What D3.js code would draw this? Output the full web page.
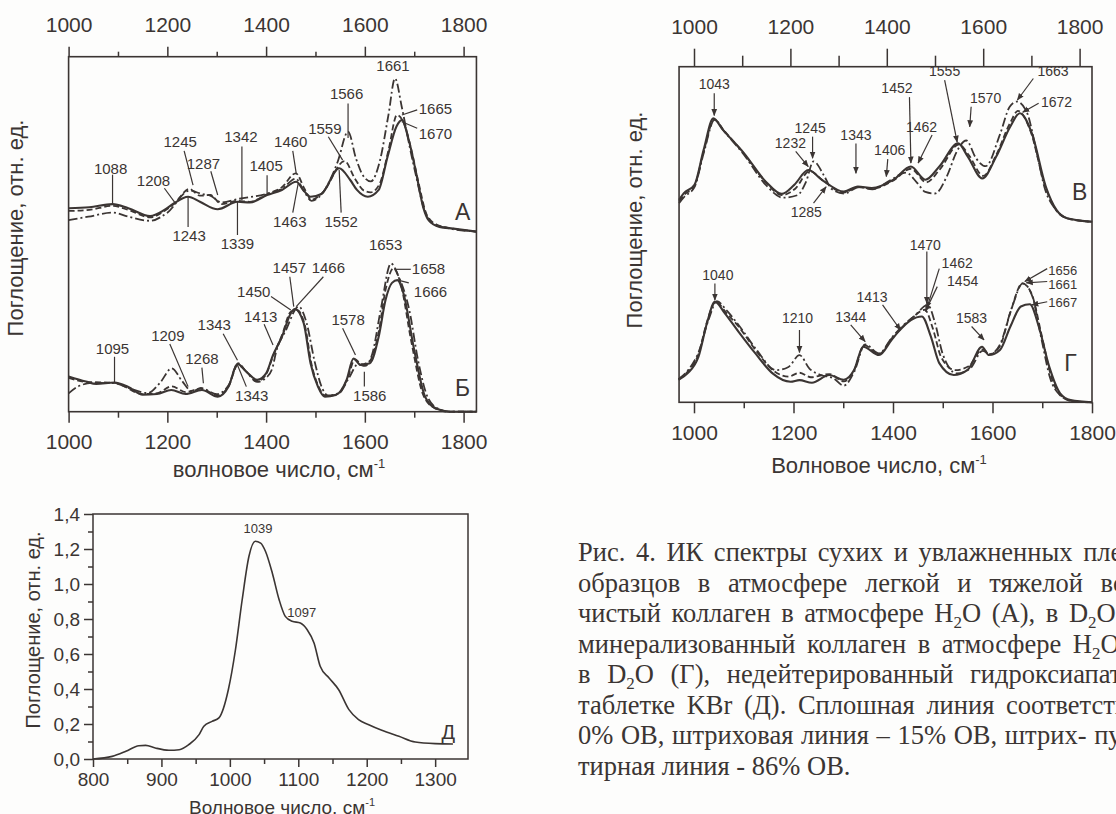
<!DOCTYPE html>
<html><head><meta charset="utf-8">
<script src="https://cdn.jsdelivr.net/npm/d3@7"></script>
<style>
body{margin:0;background:#fff}
svg{display:block;font-family:"Liberation Sans",Arial,sans-serif}
</style></head><body>
<svg id="fig" width="1116" height="814"></svg>
<script>
// ---- data: [wavenumber, relative absorbance] ----
// A : collagen in H2O
const aSolid = [[1000,0.553],[1042,0.556],[1089,0.565],[1121,0.553],[1165,0.530],[1194,0.548],[1213,0.567],[1242,0.587],[1266,0.572],[1302,0.550],[1342,0.572],[1367,0.570],[1402,0.592],[1432,0.607],[1461,0.631],[1476,0.605],[1490,0.587],[1512,0.595],[1548,0.671],[1570,0.637],[1584,0.607],[1606,0.587],[1628,0.607],[1646,0.705],[1664,0.794],[1675,0.813],[1689,0.754],[1704,0.656],[1718,0.557],[1729,0.518],[1751,0.498],[1779,0.493],[1826,0.484]];
const aDash = [[1000,0.545],[1042,0.548],[1089,0.560],[1121,0.548],[1165,0.526],[1194,0.545],[1213,0.565],[1245,0.610],[1266,0.590],[1287,0.592],[1310,0.565],[1342,0.575],[1367,0.572],[1402,0.595],[1432,0.615],[1460,0.656],[1478,0.610],[1492,0.578],[1515,0.600],[1559,0.692],[1580,0.640],[1598,0.605],[1612,0.600],[1630,0.625],[1648,0.725],[1665,0.828],[1680,0.800],[1695,0.720],[1710,0.620],[1725,0.535],[1745,0.505],[1779,0.493],[1826,0.484]];
const aDashDot = [[1000,0.518],[1040,0.528],[1089,0.540],[1121,0.528],[1165,0.516],[1200,0.540],[1245,0.605],[1270,0.595],[1287,0.590],[1310,0.570],[1342,0.580],[1400,0.595],[1432,0.610],[1460,0.640],[1478,0.600],[1492,0.575],[1520,0.610],[1545,0.690],[1566,0.779],[1582,0.700],[1596,0.650],[1612,0.632],[1630,0.690],[1648,0.830],[1661,0.936],[1675,0.850],[1690,0.740],[1705,0.640],[1720,0.550],[1735,0.510],[1760,0.497],[1826,0.484]];
// Б : collagen in D2O
const bSolid = [[1000,0.104],[1035,0.089],[1056,0.082],[1093,0.086],[1121,0.073],[1150,0.050],[1179,0.052],[1208,0.064],[1237,0.052],[1270,0.064],[1302,0.044],[1324,0.074],[1342,0.141],[1360,0.118],[1382,0.094],[1400,0.113],[1414,0.167],[1432,0.221],[1450,0.290],[1458,0.303],[1476,0.262],[1490,0.143],[1505,0.074],[1519,0.044],[1541,0.049],[1563,0.094],[1577,0.157],[1591,0.138],[1610,0.143],[1628,0.221],[1642,0.330],[1655,0.380],[1666,0.388],[1678,0.350],[1700,0.182],[1722,0.044],[1743,0.010],[1772,0.0],[1826,0.0]];
const bDash = [[1000,0.100],[1035,0.088],[1093,0.085],[1150,0.052],[1180,0.055],[1209,0.075],[1237,0.058],[1268,0.068],[1302,0.048],[1324,0.075],[1343,0.138],[1360,0.118],[1382,0.090],[1400,0.110],[1413,0.160],[1432,0.225],[1450,0.295],[1462,0.300],[1478,0.258],[1492,0.140],[1507,0.072],[1522,0.046],[1545,0.052],[1565,0.098],[1580,0.155],[1593,0.140],[1610,0.150],[1628,0.235],[1642,0.360],[1658,0.423],[1672,0.380],[1695,0.200],[1718,0.050],[1740,0.012],[1770,0.0],[1826,0.0]];
const bDashDot = [[1000,0.054],[1020,0.075],[1050,0.085],[1093,0.084],[1121,0.070],[1160,0.055],[1185,0.085],[1209,0.128],[1230,0.090],[1250,0.060],[1268,0.070],[1300,0.052],[1324,0.078],[1343,0.143],[1360,0.118],[1382,0.088],[1400,0.100],[1413,0.130],[1420,0.175],[1440,0.240],[1466,0.310],[1482,0.262],[1498,0.150],[1512,0.075],[1525,0.048],[1548,0.055],[1568,0.100],[1586,0.140],[1600,0.135],[1615,0.170],[1632,0.300],[1653,0.437],[1668,0.400],[1690,0.300],[1708,0.150],[1728,0.040],[1750,0.008],[1775,0.0],[1826,0.0]];
// В : mineralized collagen in H2O
const vSolid = [[969,0.585],[979,0.606],[1001,0.632],[1020,0.741],[1040,0.839],[1060,0.803],[1104,0.730],[1149,0.642],[1182,0.604],[1208,0.632],[1237,0.678],[1266,0.647],[1311,0.611],[1340,0.627],[1369,0.622],[1414,0.648],[1450,0.689],[1480,0.648],[1509,0.689],[1548,0.761],[1568,0.720],[1598,0.652],[1627,0.720],[1656,0.813],[1676,0.855],[1701,0.792],[1730,0.626],[1752,0.554],[1774,0.528],[1826,0.517]];
const vDash = [[969,0.580],[979,0.600],[1001,0.628],[1020,0.735],[1042,0.835],[1060,0.805],[1104,0.728],[1149,0.640],[1182,0.600],[1210,0.620],[1240,0.675],[1268,0.645],[1311,0.608],[1340,0.625],[1369,0.620],[1414,0.646],[1450,0.682],[1482,0.640],[1510,0.680],[1550,0.758],[1570,0.725],[1600,0.660],[1627,0.725],[1656,0.825],[1672,0.862],[1698,0.800],[1728,0.630],[1750,0.556],[1774,0.528],[1826,0.517]];
const vDashDot = [[969,0.575],[980,0.595],[1001,0.625],[1020,0.730],[1043,0.835],[1062,0.800],[1104,0.725],[1149,0.632],[1185,0.592],[1215,0.600],[1232,0.640],[1248,0.705],[1270,0.660],[1285,0.620],[1311,0.605],[1343,0.625],[1370,0.618],[1406,0.645],[1440,0.670],[1462,0.640],[1480,0.610],[1500,0.605],[1525,0.660],[1545,0.735],[1565,0.770],[1585,0.715],[1605,0.690],[1635,0.790],[1655,0.875],[1670,0.891],[1690,0.860],[1710,0.740],[1728,0.620],[1750,0.556],[1774,0.528],[1826,0.517]];
// Г : mineralized collagen in D2O
const gSolid = [[969,0.070],[987,0.090],[1009,0.142],[1026,0.246],[1042,0.313],[1062,0.277],[1087,0.225],[1123,0.153],[1158,0.090],[1194,0.064],[1212,0.069],[1237,0.061],[1272,0.085],[1301,0.070],[1322,0.101],[1340,0.173],[1372,0.147],[1397,0.194],[1411,0.220],[1436,0.256],[1458,0.267],[1476,0.205],[1493,0.122],[1522,0.085],[1550,0.101],[1579,0.173],[1593,0.147],[1615,0.163],[1636,0.236],[1657,0.298],[1675,0.305],[1693,0.236],[1714,0.111],[1736,0.028],[1757,0.007],[1800,0.0]];
const gDash = [[969,0.072],[987,0.095],[1009,0.150],[1026,0.250],[1044,0.313],[1064,0.280],[1090,0.235],[1125,0.160],[1160,0.098],[1190,0.080],[1212,0.092],[1235,0.078],[1272,0.088],[1301,0.065],[1322,0.100],[1342,0.178],[1372,0.150],[1397,0.198],[1413,0.225],[1440,0.265],[1464,0.288],[1480,0.230],[1497,0.140],[1525,0.100],[1552,0.112],[1580,0.165],[1595,0.150],[1615,0.175],[1636,0.280],[1660,0.370],[1678,0.340],[1700,0.200],[1718,0.080],[1738,0.020],[1760,0.004],[1800,0.0]];
const gDashDot = [[969,0.072],[987,0.098],[1009,0.155],[1030,0.260],[1046,0.315],[1066,0.285],[1090,0.240],[1125,0.165],[1165,0.100],[1190,0.110],[1212,0.147],[1232,0.105],[1255,0.085],[1280,0.075],[1301,0.052],[1322,0.095],[1344,0.180],[1372,0.152],[1397,0.200],[1413,0.228],[1444,0.270],[1470,0.303],[1484,0.250],[1500,0.150],[1528,0.090],[1555,0.105],[1580,0.160],[1595,0.150],[1615,0.180],[1640,0.300],[1661,0.370],[1680,0.330],[1698,0.200],[1716,0.075],[1736,0.022],[1760,0.004],[1800,0.0]];
// Д : hydroxyapatite in KBr
const dWn = [800,828,848,867,877,891,911,926,940,955,962,974,984,998,1008,1018,1028,1037,1045,1052,1062,1072,1081,1091,1103,1113,1123,1132,1145,1159,1174,1188,1203,1222,1247,1271,1300,1326];
const dAbs = [0,0.015,0.044,0.076,0.078,0.063,0.05,0.053,0.082,0.139,0.187,0.215,0.235,0.40,0.62,0.91,1.16,1.244,1.234,1.187,1.063,0.91,0.815,0.787,0.777,0.739,0.663,0.53,0.463,0.396,0.282,0.225,0.196,0.164,0.13,0.097,0.088,0.086];

// peak labels: [text, label x, label y, line from x, y, line to x, y, anchor]
const annA = [["1088",1085,0.671,1089,0.652,1089,0.565],["1208",1172,0.636,1194,0.612,1215,0.570],["1245",1226,0.749,1234,0.722,1252,0.621],["1287",1273,0.685,1288,0.662,1302,0.592],["1342",1349,0.764,1351,0.735,1351,0.577],["1405",1400,0.678,1402,0.650,1402,0.597],["1460",1450,0.749,1454,0.722,1461,0.656],["1559",1519,0.789,1526,0.764,1555,0.695],["1566",1563,0.892,1566,0.862,1566,0.760],["1661",1657,0.975],["1665",1743,0.848,1706,0.843,1675,0.828],["1670",1743,0.774,1706,0.789,1675,0.808],["1243",1244,0.474,1242,0.498,1242,0.587],["1339",1342,0.449,1342,0.474,1342,0.572],["1463",1448,0.513,1454,0.540,1465,0.626],["1552",1552,0.513,1552,0.540,1548,0.666]];
const annB = [["1653",1642,0.492],["1658",1729,0.423,1693,0.420,1660,0.420],["1666",1733,0.354,1689,0.380,1667,0.388],["1457",1447,0.425,1448,0.398,1456,0.310],["1466",1526,0.425,1516,0.398,1461,0.310],["1450",1375,0.354,1410,0.340,1450,0.300],["1413",1389,0.280,1396,0.258,1414,0.197],["1343",1295,0.256,1313,0.230,1342,0.152],["1209",1201,0.226,1205,0.200,1242,0.074],["1268",1270,0.157,1270,0.130,1273,0.084],["1095",1089,0.187,1093,0.162,1093,0.084],["1343",1371,0.049,1360,0.074,1342,0.138],["1578",1566,0.271,1555,0.246,1581,0.167],["1586",1610,0.049,1599,0.074,1599,0.118]];
const annV = [["1043",1042,0.945,1042,0.917,1042,0.848],["1245",1241,0.808,1246,0.782,1246,0.715],["1232",1200,0.761,1211,0.736,1237,0.689],["1285",1233,0.549,1248,0.575,1274,0.626],["1343",1336,0.787,1336,0.761,1336,0.668],["1406",1406,0.741,1402,0.712,1399,0.658],["1452",1421,0.932,1447,0.905,1450,0.700],["1462",1472,0.813,1494,0.787,1465,0.700],["1555",1520,0.985,1520,0.958,1546,0.765],["1570",1605,0.901,1575,0.875,1572,0.813],["1663",1745,0.985,1704,0.963,1671,0.896],["1672",1752,0.891,1715,0.886,1682,0.858]];
const annG = [["1040",1048,0.396,1042,0.370,1042,0.318],["1210",1208,0.262,1212,0.225,1212,0.155],["1344",1315,0.267,1315,0.241,1344,0.189],["1413",1358,0.329,1379,0.303,1415,0.225],["1470",1465,0.490,1468,0.469,1468,0.308],["1462",1529,0.433,1493,0.416,1468,0.293],["1454",1540,0.376,1489,0.360,1465,0.283],["1583",1558,0.262,1558,0.236,1583,0.194],["1656",1712,0.411,1710,0.416,1665,0.376,"start"],["1661",1712,0.368,1710,0.376,1668,0.372,"start"],["1667",1712,0.311,1710,0.313,1679,0.303,"start"]];
const annD = [["1039",1041,1.32],["1097",1105,0.84]];

const majorTicks = [1000,1200,1400,1600,1800];
const minorTicks = [1100,1300,1500,1700];
// caption lines with the word spacing of the justified column
const caption = [
  ["Рис. 4. ИК спектры сухих и увлажненных пленок", 4],
  ["образцов в атмосфере легкой и тяжелой воды:", 11],
  ["чистый коллаген в атмосфере H|2|O (А), в D|2|O (Б),", 4],
  ["минерализованный коллаген в атмосфере H|2|O (В) и", 5],
  ["в D|2|O (Г), недейтерированный гидроксиапатит в", 10],
  ["таблетке KBr (Д). Сплошная линия соответствует", 5],
  ["0% ОВ, штриховая линия – 15% ОВ, штрих- пунк-", 1],
  ["тирная линия - 86% ОВ.", 0]
];

const ink = "#3b3533";
const svg = d3.select("#fig");
svg.append("rect").attr("width", 1116).attr("height", 814).attr("fill", "#fdfdfc");

svg.append("defs").append("marker")
  .attr("id", "arr").attr("viewBox", "0 0 10 10").attr("refX", 9).attr("refY", 5)
  .attr("markerWidth", 6).attr("markerHeight", 6).attr("orient", "auto")
  .append("path").attr("d", "M0,1 L10,5 L0,9 z").attr("fill", ink);

const dashes = {solid: null, dash: "6,3", dashdot: "9,3,2,3"};

function styleAxis(a, size) {
  a.select(".domain").remove();
  a.selectAll("line").attr("stroke", ink).attr("stroke-width", 1.5);
  a.selectAll("text").attr("fill", ink).style("font-size", size + "px")
    .style("font-family", '"Liberation Sans", Arial, sans-serif');
}

function spectraPanel(o) {
  const g = svg.append("g");
  const xl = o.xTop(o.frame[0]), xr = o.xBot(o.frame[1]);
  g.append("rect")
    .attr("x", xl).attr("y", o.top)
    .attr("width", xr - xl).attr("height", o.bottom - o.top)
    .attr("fill", "none").attr("stroke", ink).attr("stroke-width", 1.6);

  const ax = (axis, scale, vals, y, size, pad, lab) => {
    const a = g.append("g").attr("transform", `translate(0,${y})`)
      .call(axis(scale).tickValues(vals).tickSize(size).tickPadding(pad)
        .tickFormat(lab ? d3.format("d") : ""));
    styleAxis(a, o.tickFont);
  };
  ax(d3.axisTop, o.xTop, majorTicks, o.top, o.tickT[0], o.tickT[2], true);
  ax(d3.axisTop, o.xTop, minorTicks, o.top, o.tickT[1], 0, false);
  ax(d3.axisBottom, o.xBot, majorTicks, o.bottom, o.tickB[0], o.tickB[2], true);
  ax(d3.axisBottom, o.xBot, minorTicks, o.bottom, o.tickB[1], 0, false);

  o.parts.forEach(p => {
    const x = p.x, y = p.y;
    const line = d3.line().x(d => x(d[0])).y(d => y(d[1])).curve(d3.curveMonotoneX);
    p.series.forEach(s => {
      g.append("path").datum(s.data).attr("d", line)
        .attr("fill", "none").attr("stroke", ink)
        .attr("stroke-width", s.style === "solid" ? 2.1 : 1.8)
        .attr("stroke-dasharray", dashes[s.style])
        .attr("stroke-linejoin", "round");
    });
    p.anns.forEach(a => {
      if (a.length > 3) {
        const l = g.append("line")
          .attr("x1", x(a[3])).attr("y1", y(a[4]))
          .attr("x2", x(a[5])).attr("y2", y(a[6]))
          .attr("stroke", ink).attr("stroke-width", 1.2);
        if (o.arrows) l.attr("marker-end", "url(#arr)");
      }
      g.append("text").attr("x", x(a[1])).attr("y", y(a[2]))
        .attr("text-anchor", a[7] || "middle").attr("dominant-baseline", "central")
        .attr("fill", ink).style("font-size", (a[7] ? o.peakFont - 1 : o.peakFont) + "px").text(a[0]);
    });
    g.append("text").attr("x", x(p.letter[1])).attr("y", y(p.letter[2]))
      .attr("text-anchor", "middle").attr("dominant-baseline", "central")
      .attr("fill", ink).style("font-size", "23px").text(p.letter[0]);
  });

  const xt = g.append("text").attr("x", o.xTitle[0]).attr("y", o.xTitle[1])
    .attr("text-anchor", "middle").attr("fill", ink).style("font-size", o.titleFont + "px");
  xt.append("tspan").text(o.xTitle[2]);
  xt.append("tspan").attr("dy", -9).style("font-size", "13px").text("-1");
  g.append("text")
    .attr("transform", `translate(${o.yTitle[0]},${o.yTitle[1]}) rotate(-90)`)
    .attr("text-anchor", "middle").attr("dominant-baseline", "central")
    .attr("fill", ink).style("font-size", o.titleFont + "px")
    .text("Поглощение, отн. ед.");
}

// left: A and Б (stacked, each with own offset)
const xL = d3.scaleLinear().domain([1000, 1800]).range([68.6, 463.6]);
spectraPanel({
  xTop: xL, xBot: xL, frame: [1000, 1826], top: 56.7, bottom: 411.7,
  tickT: [10, 5, 15], tickB: [11, 6, 11], tickFont: 21, peakFont: 15, titleFont: 22,
  parts: [
    {x: xL, y: d3.scaleLinear().domain([0, 1]).range([395.7, 56.7]),
     series: [{data: aSolid, style: "solid"}, {data: aDash, style: "dash"}, {data: aDashDot, style: "dashdot"}],
     anns: annA, letter: ["А", 1798, 0.543]},
    {x: xL, y: d3.scaleLinear().domain([0, 1]).range([411.7, 72.7]),
     series: [{data: bSolid, style: "solid"}, {data: bDash, style: "dash"}, {data: bDashDot, style: "dashdot"}],
     anns: annB, letter: ["Б", 1798, 0.069]}
  ],
  xTitle: [279, 477, "волновое число, см"],
  yTitle: [15, 228],
  arrows: false
});

// right: В and Г
const xRt = d3.scaleLinear().domain([1000, 1800]).range([694, 1079.6]);
const xRb = d3.scaleLinear().domain([1000, 1800]).range([694, 1092]);
spectraPanel({
  xTop: xRt, xBot: xRb, frame: [969, 1800], top: 66.7, bottom: 402.3,
  tickT: [18, 11, 15], tickB: [11, 6, 12], tickFont: 21, peakFont: 14, titleFont: 22,
  parts: [
    {x: xRt, y: d3.scaleLinear().domain([0, 1]).range([387.9, 66.6]),
     series: [{data: vSolid, style: "solid"}, {data: vDash, style: "dash"}, {data: vDashDot, style: "dashdot"}],
     anns: annV, letter: ["В", 1800, 0.611]},
    {x: xRb, y: d3.scaleLinear().domain([0, 1]).range([402.3, 81]),
     series: [{data: gSolid, style: "solid"}, {data: gDash, style: "dash"}, {data: gDashDot, style: "dashdot"}],
     anns: annG, letter: ["Г", 1757, 0.121]}
  ],
  xTitle: [879, 473, "Волновое число, см"],
  yTitle: [634, 220],
  arrows: true
});

// bottom: Д
(function () {
  const x = d3.scaleLinear().domain([800, 1348]).range([93, 468]);
  const y = d3.scaleLinear().domain([0, 1.4]).range([759, 514]);
  const g = svg.append("g");
  g.append("rect").attr("x", x(800)).attr("y", y(1.4))
    .attr("width", x(1348) - x(800)).attr("height", y(0) - y(1.4))
    .attr("fill", "none").attr("stroke", ink).attr("stroke-width", 1.5);
  const fmt = d => d3.format(".1f")(d).replace(".", ",");
  [
    g.append("g").attr("transform", `translate(${x(800)},0)`)
      .call(d3.axisLeft(y).tickValues(d3.range(0, 1.41, 0.2)).tickSize(9).tickPadding(4).tickFormat(fmt)),
    g.append("g").attr("transform", `translate(${x(800)},0)`)
      .call(d3.axisLeft(y).tickValues(d3.range(0.1, 1.4, 0.2)).tickSize(5).tickFormat("")),
    g.append("g").attr("transform", `translate(0,${y(0)})`)
      .call(d3.axisBottom(x).tickValues(d3.range(800, 1301, 100)).tickSize(8).tickPadding(6).tickFormat(d3.format("d"))),
    g.append("g").attr("transform", `translate(0,${y(0)})`)
      .call(d3.axisBottom(x).tickValues(d3.range(850, 1300, 100)).tickSize(5).tickFormat(""))
  ].forEach(a => styleAxis(a, 19));
  const line = d3.line().x((d, i) => x(dWn[i])).y(d => y(d)).curve(d3.curveMonotoneX);
  g.append("path").datum(dAbs).attr("d", line)
    .attr("fill", "none").attr("stroke", ink).attr("stroke-width", 1.6);
  annD.forEach(a => {
    g.append("text").attr("x", x(a[1])).attr("y", y(a[2]))
      .attr("text-anchor", "middle").attr("dominant-baseline", "central")
      .attr("fill", ink).style("font-size", "13px").text(a[0]);
  });
  g.append("text").attr("x", x(1319)).attr("y", y(0.154))
    .attr("text-anchor", "middle").attr("dominant-baseline", "central")
    .attr("fill", ink).style("font-size", "20px").text("Д");
  const xt = g.append("text").attr("x", 282).attr("y", 814)
    .attr("text-anchor", "middle").attr("fill", ink).style("font-size", "19px");
  xt.append("tspan").text("Волновое число, см");
  xt.append("tspan").attr("dy", -8).style("font-size", "11px").text("-1");
  g.append("text")
    .attr("transform", "translate(33,630) rotate(-90)")
    .attr("text-anchor", "middle").attr("dominant-baseline", "central")
    .attr("fill", ink).style("font-size", "20px").text("Поглощение, отн. ед.");
})();

// caption (cut at the right edge, as in the scan)
const cap = svg.append("g").style("font-family", '"Liberation Serif", "Times New Roman", serif')
  .style("font-size", "26.5px").attr("fill", ink);
caption.forEach((c, i) => {
  const t = cap.append("text").attr("x", 578).attr("y", 561 + i * 30.5)
    .attr("word-spacing", c[1]);
  c[0].split("|").forEach((part, j) => {
    if (j % 2 === 1) {
      t.append("tspan").attr("dy", 6).style("font-size", "17px").text(part);
    } else {
      t.append("tspan").attr("dy", j ? -6 : 0).text(part);
    }
  });
});
</script>
</body></html>
